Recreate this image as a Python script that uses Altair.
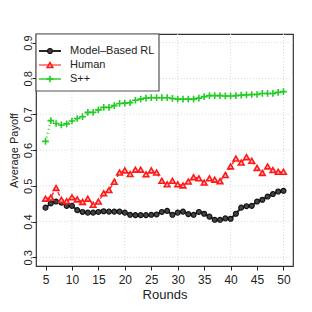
import altair as alt
import pandas as pd

rounds = list(range(5, 51))
model_rl = [0.439, 0.451, 0.456, 0.453, 0.444, 0.444, 0.432, 0.427, 0.425, 0.425,
            0.427, 0.429, 0.428, 0.428, 0.428, 0.425, 0.419, 0.418, 0.418, 0.418,
            0.419, 0.420, 0.427, 0.430, 0.419, 0.425, 0.428, 0.421, 0.419, 0.427,
            0.422, 0.414, 0.405, 0.405, 0.409, 0.408, 0.422, 0.439, 0.443, 0.444,
            0.456, 0.461, 0.470, 0.477, 0.484, 0.486]
human = [0.464, 0.467, 0.494, 0.461, 0.457, 0.468, 0.462, 0.455, 0.464, 0.447,
         0.456, 0.479, 0.488, 0.511, 0.537, 0.543, 0.533, 0.545, 0.545, 0.532,
         0.543, 0.537, 0.514, 0.504, 0.514, 0.504, 0.501, 0.512, 0.524, 0.521,
         0.509, 0.521, 0.517, 0.513, 0.530, 0.554, 0.576, 0.565, 0.580, 0.570,
         0.550, 0.536, 0.554, 0.544, 0.539, 0.539]
spp = [0.624, 0.682, 0.674, 0.670, 0.673, 0.681, 0.688, 0.693, 0.705, 0.705,
       0.712, 0.719, 0.719, 0.724, 0.730, 0.731, 0.732, 0.739, 0.742, 0.745,
       0.746, 0.746, 0.746, 0.746, 0.744, 0.742, 0.742, 0.742, 0.742, 0.745,
       0.749, 0.752, 0.752, 0.752, 0.751, 0.751, 0.752, 0.753, 0.754, 0.755,
       0.755, 0.758, 0.758, 0.758, 0.761, 0.763]
series_names = ["Model\u2013Based RL", "Human", "S++"]
x_ticks = [5, 10, 15, 20, 25, 30, 35, 40, 45, 50]
y_ticks = [0.3, 0.4, 0.5, 0.6, 0.7, 0.8, 0.9]
grid_x = [10, 20, 30, 40, 50]

FONT = "Liberation Sans"
W, H = 257, 232

xs = alt.Scale(domain=[3.2, 51.8], nice=False, zero=False)
ys = alt.Scale(domain=[0.276, 0.924], nice=False, zero=False)

xaxis = alt.Axis(values=x_ticks, grid=False, domain=False, tickSize=4,
                 tickColor="#222", labelFontSize=12, labelFont=FONT,
                 labelColor="#222", labelPadding=4, titleFont=FONT,
                 titleFontSize=13, titleFontWeight="normal",
                 titleColor="#222", titlePadding=3, labelFlush=False)
yaxis = alt.Axis(values=y_ticks, grid=False, domain=False, tickSize=4,
                 tickColor="#222", labelFontSize=11, labelFont=FONT,
                 labelColor="#222", labelAngle=270, labelAlign="center",
                 labelBaseline="alphabetic", labelPadding=1, format=".1f",
                 titleFont=FONT, titleFontSize=11, titleFontWeight="normal",
                 titleColor="#222", titleAngle=270, titleAlign="center",
                 titleBaseline="alphabetic", titleX=-18.5, titleY=H / 2,
                 labelFlush=False)
XT, YT = "Rounds", "Average Payoff"

styles = {
    series_names[0]: dict(color="#111111", dash=[1, 0], lw=2, shape="circle",
                          fill="#444444", size=24, sw=1.2, op=0.9),
    series_names[1]: dict(color="#ff1a1a", dash=[4, 3], lw=1.5, shape="triangle-up",
                          fill="#ffbbbb", size=32, sw=1.6, op=0.9),
    series_names[2]: dict(color="#22cc22", dash=[1, 3], lw=2,
                          shape="M-1,0L1,0M0,-1L0,1", fill="transparent",
                          size=45, sw=1.6, op=0.95),
}
values = {series_names[0]: model_rl, series_names[1]: human, series_names[2]: spp}

gx = alt.Chart(pd.DataFrame({"gx": grid_x})).mark_rule(
    color="#d9d9d9", strokeDash=[1, 2], strokeWidth=1
).encode(x=alt.X("gx:Q", scale=xs, axis=xaxis, title=XT))
gy = alt.Chart(pd.DataFrame({"gy": y_ticks})).mark_rule(
    color="#d9d9d9", strokeDash=[1, 2], strokeWidth=1
).encode(y=alt.Y("gy:Q", scale=ys, axis=yaxis, title=YT))

layers = [gx, gy]
for name in series_names:
    st = styles[name]
    df = pd.DataFrame({"r": rounds, "v": values[name]})
    base = alt.Chart(df).encode(
        x=alt.X("r:Q", scale=xs, axis=xaxis, title=XT),
        y=alt.Y("v:Q", scale=ys, axis=yaxis, title=YT),
    )
    layers.append(base.mark_line(color=st["color"], strokeDash=st["dash"],
                                 strokeWidth=st["lw"], opacity=st["op"]))
    layers.append(base.mark_point(shape=st["shape"], filled=False, fill=st["fill"],
                                  stroke=st["color"], strokeWidth=st["sw"],
                                  size=st["size"], opacity=1))

# legend box
one = pd.DataFrame({"k": [0]})
layers.append(alt.Chart(one).mark_rect(fill="white", stroke="#555555", strokeWidth=1.2).encode(
    x=alt.value(0), x2=alt.value(123), y=alt.value(0), y2=alt.value(57)))
for i, name in enumerate(series_names):
    st = styles[name]
    yy = 17 + i * 14
    ldf = pd.DataFrame({"label": [name]})
    layers.append(alt.Chart(ldf).mark_rule(color=st["color"], strokeWidth=st["lw"],
                                           opacity=0.7 if i else 0.9).encode(
        x=alt.value(3), x2=alt.value(25), y=alt.value(yy)))
    layers.append(alt.Chart(ldf).mark_point(shape=st["shape"], filled=False, fill=st["fill"],
                                            stroke=st["color"], strokeWidth=st["sw"],
                                            size=st["size"], opacity=1).encode(
        x=alt.value(14), y=alt.value(yy)))
    layers.append(alt.Chart(ldf).mark_text(align="left", baseline="middle", font=FONT,
                                           fontSize=11, color="#222").encode(
        x=alt.value(34), y=alt.value(yy), text="label:N"))

chart = alt.layer(*layers).properties(
    width=W, height=H,
    background="white",
    autosize=alt.AutoSizeParams(type="none"),
    padding={"left": 28, "top": 26, "right": 8, "bottom": 40},
).configure_view(stroke="#333333", strokeWidth=1.2)

chart.save("out.html", embed_options={"renderer": "svg", "actions": False})
